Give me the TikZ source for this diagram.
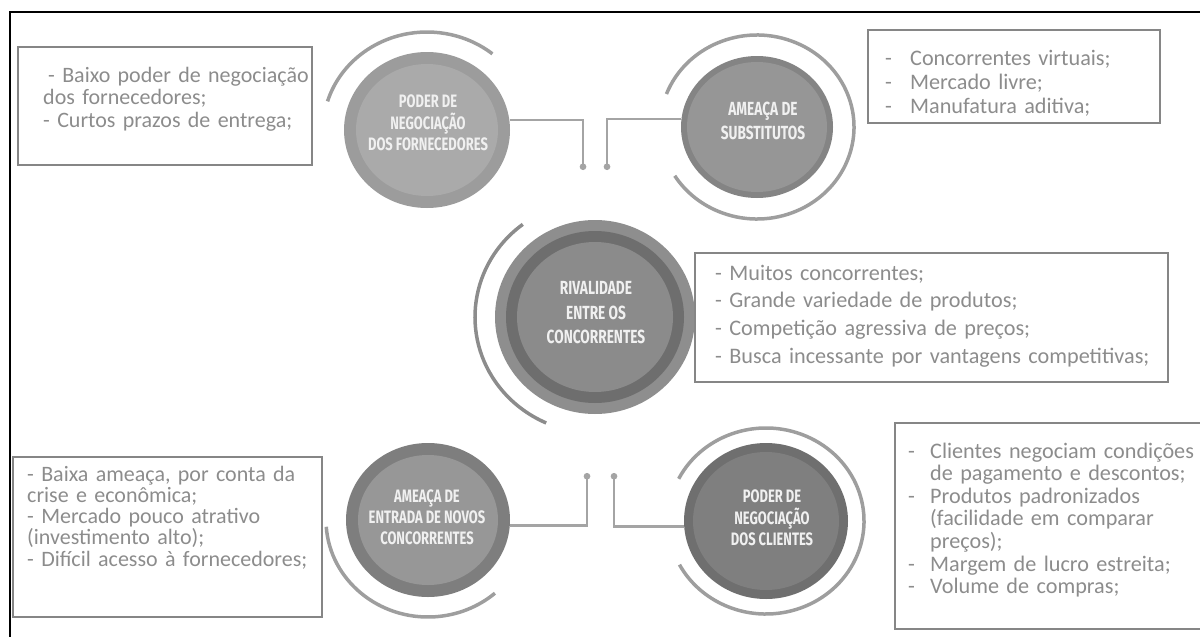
\documentclass[tikz,border=0pt]{standalone}
\usepackage{fontspec}
\setmainfont{Carlito}
\newfontfamily\circfont[FakeStretch=0.72]{Fira Sans}
\usetikzlibrary{shapes.geometric,arrows.meta}
\definecolor{txtgray}{HTML}{8C8C8C}
\definecolor{boxgray}{HTML}{868686}
\definecolor{arcgray}{HTML}{9E9E9E}
\definecolor{conngray}{HTML}{A4A4A4}
\newcommand{\listdash}[1]{\makebox[#1][l]{-}}

\begin{document}
\begin{tikzpicture}[x=1pt,y=-1pt,
  disc/.style={ellipse, inner sep=0pt, draw=none},
  circtext/.style={text=white!94!black, align=center, inner sep=0pt, font=\circfont\bfseries\fontsize{18}{21.5}\selectfont},
  arcline/.style={draw=arcgray, line width=3.5pt},
  conn/.style={draw=conngray, line width=2.5pt, -{Circle[length=6.5pt]}},
  box/.style={rectangle, draw=boxgray, line width=2.4pt, inner sep=0pt},
  note/.style={text=txtgray, inner sep=0pt, anchor=base west, text width=480pt, align=left}]
\useasboundingbox (0,0) rectangle (1200,637);
\draw[line width=2pt] (10,640) -- (10,12) -- (1202,12);

% circles
\draw (427,130) node[disc, minimum width=166, minimum height=156, fill={rgb,255:red,156;green,156;blue,156}] (forn) {};
\draw (forn) node[disc, minimum width=142, minimum height=132, fill={rgb,255:red,170;green,170;blue,170}] (forn-in) {};
\draw (428,123) node[circtext] (forn-txt) {PODER DE\\NEGOCIAÇÃO\\DOS FORNECEDORES};

\draw (757,127) node[disc, minimum width=152, minimum height=142, fill={rgb,255:red,132;green,132;blue,132}] (subst) {};
\draw (subst) node[disc, minimum width=140, minimum height=130, fill={rgb,255:red,150;green,150;blue,150}] (subst-in) {};
\draw (763,121) node[circtext, font=\circfont\bfseries\fontsize{19}{24.5}\selectfont] (subst-txt) {AMEAÇA DE\\SUBSTITUTOS};

\draw (595,317) node[disc, minimum width=200, minimum height=194, fill={rgb,255:red,142;green,142;blue,142}] (rival) {};
\draw (rival) node[disc, minimum width=178, minimum height=172, fill={rgb,255:red,110;green,110;blue,110}] (rival-mid) {};
\draw (rival) node[disc, minimum width=156, minimum height=150, fill={rgb,255:red,139;green,139;blue,139}] (rival-in) {};
\draw (596,313) node[circtext, font=\circfont\bfseries\fontsize{19}{24.5}\selectfont] (rival-txt) {RIVALIDADE\\ENTRE OS\\CONCORRENTES};

\draw (428,520) node[disc, minimum width=164, minimum height=154, fill={rgb,255:red,126;green,126;blue,126}] (entr) {};
\draw (entr) node[disc, minimum width=140, minimum height=130, fill={rgb,255:red,151;green,151;blue,151}] (entr-in) {};
\draw (427,517) node[circtext, font=\circfont\bfseries\fontsize{18}{20.8}\selectfont] (entr-txt) {AMEAÇA DE\\ENTRADA DE NOVOS\\CONCORRENTES};

\draw (766,521) node[disc, minimum width=164, minimum height=156, fill={rgb,255:red,111;green,111;blue,111}] (clie) {};
\draw (clie) node[disc, minimum width=146, minimum height=138, fill={rgb,255:red,127;green,127;blue,127}] (clie-in) {};
\draw (772,518) node[circtext] (clie-txt) {PODER DE\\NEGOCIAÇÃO\\DOS CLIENTES};

% arcs round the circles
\draw[arcline] (forn.center) ++(-163:104 and 98) arc[start angle=-163, end angle=-51, x radius=104, y radius=98];
\draw[arcline] (subst.center) ++(-159:97 and 92) arc[start angle=-159, end angle=148, x radius=97, y radius=92];
\draw[arcline, draw={rgb,255:red,140;green,140;blue,140}] (rival.center) ++(-127:120 and 116) arc[start angle=-127, end angle=-246, x radius=120, y radius=116];
\draw[arcline] (entr.center) ++(-184:102 and 97) arc[start angle=-184, end angle=-311, x radius=102, y radius=97];
\draw[arcline] (clie.center) ++(-153:98 and 93) arc[start angle=-153, end angle=152, x radius=98, y radius=93];

% connectors
\coordinate (forn-dot) at (583,170);
\coordinate (subst-dot) at (607,170);
\coordinate (entr-dot) at (587,473);
\coordinate (clie-dot) at (614,473);
\draw[conn] (forn.7) -| (forn-dot);
\draw[conn] (subst.174) -| (subst-dot);
\draw[conn] (entr.-4) -| (entr-dot);
\draw[conn] (clie.184) -| (clie-dot);

% boxes
\draw (165,106) node[box, minimum width=294, minimum height=118] (forn-box) {};
\draw (43,82) node[note, font=\fontsize{22}{22.5}\selectfont] (forn-note) {\hspace*{5pt}- Baixo poder de negociação\\dos fornecedores;\\- Curtos prazos de entrega;};

\draw (1014,76.5) node[box, minimum width=292, minimum height=93] (subst-box) {};
\draw (885,65) node[note, font=\fontsize{22.2}{24}\selectfont] (subst-note) {\listdash{25pt}Concorrentes virtuais;\\\listdash{25pt}Mercado livre;\\\listdash{25pt}Manufatura aditiva;};

\draw (931.5,317.5) node[box, minimum width=473, minimum height=129] (rival-box) {};
\draw (715,280) node[note, font=\fontsize{22.2}{27.7}\selectfont] (rival-note) {- Muitos concorrentes;\\- Grande variedade de produtos;\\- Competição agressiva de preços;\\- Busca incessante por vantagens competitivas;};

\draw (167.5,537) node[box, minimum width=309, minimum height=160] (entr-box) {};
\draw (27,481) node[note, font=\fontsize{22}{21.3}\selectfont] (entr-note) {- Baixa ameaça, por conta da\\crise e econômica;\\- Mercado pouco atrativo\\(investimento alto);\\- Difícil acesso à fornecedores;};

\draw (1055,526) node[box, minimum width=320, minimum height=206] (clie-box) {};
\draw (908,458) node[note, font=\fontsize{22.2}{22.6}\selectfont] (clie-note) {\listdash{22pt}Clientes negociam condições\\\hspace*{22pt}de pagamento e descontos;\\\listdash{22pt}Produtos padronizados\\\hspace*{22pt}(facilidade em comparar\\\hspace*{22pt}preços);\\\listdash{22pt}Margem de lucro estreita;\\\listdash{22pt}Volume de compras;};
\end{tikzpicture}
\end{document}
